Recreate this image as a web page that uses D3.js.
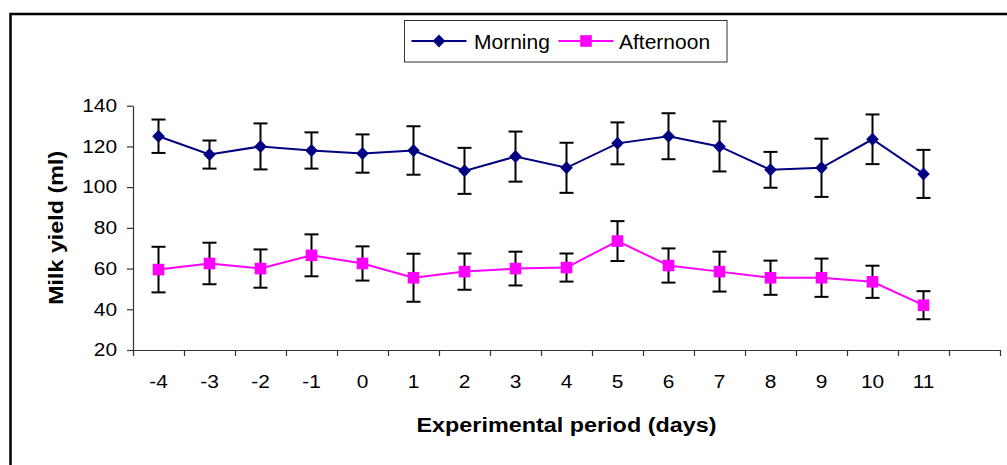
<!DOCTYPE html>
<html>
<head>
<meta charset="utf-8">
<script src="https://cdn.jsdelivr.net/npm/d3@7.9.0/dist/d3.min.js"></script>
<style>
  body { margin: 0; background: #fff; }
  svg { display: block; font-family: "Liberation Sans", Arial, sans-serif; }
  .tick-label { font-size: 18px; fill: #000; }
  .axis-title { font-size: 20px; font-weight: bold; fill: #000; }
  .legend-label { font-size: 21px; fill: #000; }
</style>
</head>
<body>
<div id="chart"></div>
<script>
// Days on the x axis (one empty slot follows the last day)
const days = [-4, -3, -2, -1, 0, 1, 2, 3, 4, 5, 6, 7, 8, 9, 10, 11];

// Milk yield (ml), mean per day
const morning = [125, 116, 120, 118, 116.5, 118, 108, 115, 109.5, 121.5, 125, 120, 108.5, 109.5, 123.5, 106.5];
const afternoon = [59.5, 62.5, 60, 66.5, 62.5, 55.5, 58.5, 60, 60.5, 73.5, 61.5, 58.5, 55.5, 55.5, 53.5, 42];

// Error bar half-lengths
const morningErr = [8.2, 6.9, 11.3, 8.9, 9.4, 11.9, 11.3, 12.3, 12.3, 10.3, 11.3, 12.3, 8.8, 14.3, 12.2, 11.8];
const afternoonErr = [11.2, 10.2, 9.4, 10.3, 8.4, 11.8, 8.9, 8.3, 6.9, 9.8, 8.4, 9.8, 8.4, 9.4, 7.9, 6.9];

const yTicks = [20, 40, 60, 80, 100, 120, 140];

const series = [
  { name: "Morning", values: morning, err: morningErr, color: "#000080", marker: "diamond" },
  { name: "Afternoon", values: afternoon, err: afternoonErr, color: "#FF00FF", marker: "square" }
];

const W = 1007, H = 465;
const plot = { left: 133, right: 1000, top: 105.7, bottom: 350 };
const stretch = 1.16;   // original text looks a bit wider than normal

const svg = d3.select("#chart").append("svg")
  .attr("width", W)
  .attr("height", H);

// outer chart frame (cut off at right & bottom like the original)
svg.append("rect")
  .attr("x", 10.5).attr("y", 14)
  .attr("width", 1020).attr("height", 480)
  .attr("fill", "none")
  .attr("stroke", "#000")
  .attr("stroke-width", 2.5);

// scales: each day gets one slot, plus an empty one at the end
const x = d3.scaleLinear()
  .domain([days[0] - 0.5, days[days.length - 1] + 1.5])
  .range([plot.left, plot.right]);

const y = d3.scaleLinear()
  .domain([yTicks[0], yTicks[yTicks.length - 1]])
  .range([plot.bottom, plot.top]);

// y axis
const yAxis = svg.append("g")
  .attr("transform", `translate(${plot.left},0)`)
  .call(d3.axisLeft(y).tickValues(yTicks).tickSize(6).tickPadding(9).tickSizeOuter(0));
yAxis.select(".domain").attr("stroke", "#333").attr("stroke-width", 1.2);
yAxis.selectAll(".tick line").attr("stroke", "#333").attr("stroke-width", 1.2);
yAxis.selectAll(".tick text")
  .attr("class", "tick-label")
  .attr("font-family", null).attr("font-size", null)
  .attr("x", -16 / stretch)
  .attr("transform", `scale(${stretch},1)`);

// x axis: ticks at slot edges, labels at slot centres
const edges = d3.range(days.length + 2).map(i => days[0] - 0.5 + i);
const xAxis = svg.append("g")
  .attr("transform", `translate(0,${plot.bottom})`)
  .call(d3.axisBottom(x).tickValues(edges).tickFormat("").tickSize(6).tickSizeOuter(0));
xAxis.select(".domain").attr("stroke", "#333").attr("stroke-width", 1.2);
xAxis.selectAll(".tick line").attr("stroke", "#333").attr("stroke-width", 1.2);

svg.append("g")
  .selectAll("text")
  .data(days)
  .join("text")
  .attr("class", "tick-label")
  .attr("transform", d => `translate(${x(d)},388) scale(${stretch},1)`)
  .attr("text-anchor", "middle")
  .text(d => d);

// axis titles
svg.append("text")
  .attr("class", "axis-title")
  .attr("x", (plot.left + plot.right) / 2)
  .attr("y", 432)
  .attr("text-anchor", "middle")
  .attr("textLength", 300)
  .attr("lengthAdjust", "spacingAndGlyphs")
  .text("Experimental period (days)");

svg.append("text")
  .attr("class", "axis-title")
  .attr("transform", `translate(62.5,${(plot.top + plot.bottom) / 2}) rotate(-90)`)
  .attr("text-anchor", "middle")
  .attr("font-size", 22)
  .attr("textLength", 154)
  .attr("lengthAdjust", "spacingAndGlyphs")
  .text("Milk yield (ml)");

function drawMarker(g, type, color) {
  if (type === "diamond") {
    g.append("path").attr("d", "M0,-6.5L6.3,0L0,6.5L-6.3,0Z").attr("fill", color);
  } else {
    g.append("rect").attr("x", -5.8).attr("y", -5.8).attr("width", 11.6).attr("height", 11.6).attr("fill", color);
  }
}

const line = d3.line()
  .x((d, i) => x(days[i]))
  .y(d => y(d));

series.forEach(s => {
  const g = svg.append("g");

  g.append("path")
    .datum(s.values)
    .attr("fill", "none")
    .attr("stroke", s.color)
    .attr("stroke-width", 2)
    .attr("d", line);

  // error bars
  const eb = g.selectAll("g.err")
    .data(s.values)
    .join("g")
    .attr("class", "err");
  eb.append("line")
    .attr("x1", (d, i) => x(days[i])).attr("x2", (d, i) => x(days[i]))
    .attr("y1", (d, i) => y(d + s.err[i])).attr("y2", (d, i) => y(d - s.err[i]))
    .attr("stroke", "#000").attr("stroke-width", 2);
  eb.append("line")
    .attr("x1", (d, i) => x(days[i]) - 7).attr("x2", (d, i) => x(days[i]) + 7)
    .attr("y1", (d, i) => y(d + s.err[i])).attr("y2", (d, i) => y(d + s.err[i]))
    .attr("stroke", "#000").attr("stroke-width", 2);
  eb.append("line")
    .attr("x1", (d, i) => x(days[i]) - 7).attr("x2", (d, i) => x(days[i]) + 7)
    .attr("y1", (d, i) => y(d - s.err[i])).attr("y2", (d, i) => y(d - s.err[i]))
    .attr("stroke", "#000").attr("stroke-width", 2);

  // markers
  s.values.forEach((v, i) => {
    const m = g.append("g").attr("transform", `translate(${x(days[i])},${y(v)})`);
    drawMarker(m, s.marker, s.color);
  });
});

// legend
const legend = svg.append("g");
legend.append("rect")
  .attr("x", 404.5).attr("y", 20.5)
  .attr("width", 322.5).attr("height", 41.5)
  .attr("fill", "#fff")
  .attr("stroke", "#333")
  .attr("stroke-width", 1);

const legendPos = [{ x0: 411.5, tx: 474 }, { x0: 558.5, tx: 619 }];
series.forEach((s, i) => {
  const p = legendPos[i];
  const lg = legend.append("g");
  lg.append("line")
    .attr("x1", p.x0).attr("x2", p.x0 + 55)
    .attr("y1", 41).attr("y2", 41)
    .attr("stroke", s.color).attr("stroke-width", 2);
  const m = lg.append("g").attr("transform", `translate(${p.x0 + 27.5},41)`);
  drawMarker(m, s.marker, s.color);
  lg.append("text")
    .attr("class", "legend-label")
    .attr("x", p.tx).attr("y", 48.5)
    .text(s.name);
});
</script>
</body>
</html>
